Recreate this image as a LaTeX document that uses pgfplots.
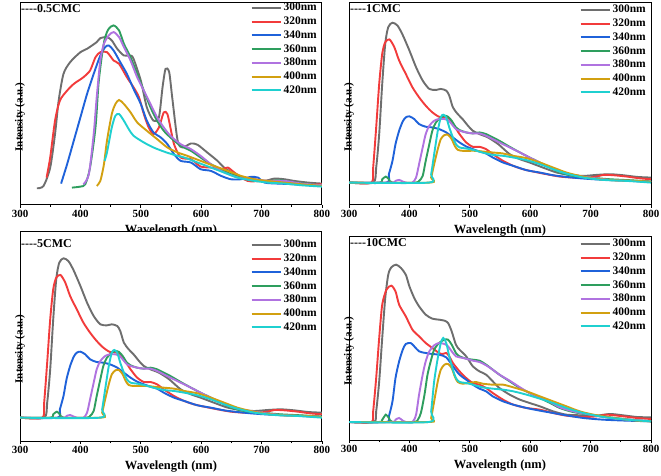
\documentclass[border=0pt]{standalone}
\usepackage{fontspec}
\setmainfont{Liberation Serif}
\usepackage{pgfplots}
\usepackage{pgfplotstable}
\pgfplotsset{compat=1.18}
\definecolor{cgr}{HTML}{6E6E6E}
\definecolor{crd}{HTML}{F23B3B}
\definecolor{cbl}{HTML}{1F62DA}
\definecolor{cgn}{HTML}{2E9E5E}
\definecolor{cpu}{HTML}{B073E0}
\definecolor{cog}{HTML}{D2A010}
\definecolor{ccy}{HTML}{1FD0D0}

% panel 2 data (reused for panel 3), x = wavelength, y = reversed intensity scale
\pgfplotstableread[row sep=\\]{x y\\300 545\\340 545\\345 500\\350 400\\355 250\\360 130\\365 80\\372 67\\380 75\\388 100\\400 150\\411 200\\422 240\\433 265\\444 268\\452 265\\461 270\\466 285\\472 320\\480 340\\488 355\\497 375\\505 390\\516 400\\530 410\\547 430\\566 460\\583 475\\599 485\\621 500\\644 515\\666 522\\688 525\\710 522\\732 520\\754 523\\777 528\\800 530\\}\tBgr
\pgfplotstableread[row sep=\\]{x y\\300 545\\337 545\\340 500\\345 380\\350 250\\355 160\\360 125\\367 117\\375 140\\383 180\\394 220\\405 260\\416 290\\427 315\\438 335\\449 348\\461 350\\472 370\\483 400\\494 425\\505 438\\516 438\\527 445\\538 460\\555 480\\572 495\\588 505\\605 512\\627 520\\649 527\\671 530\\693 530\\710 527\\721 522\\738 523\\760 527\\780 532\\800 535\\}\tBrd
\pgfplotstableread[row sep=\\]{x y\\300 545\\362 545\\366 520\\372 480\\377 430\\383 390\\389 362\\394 350\\400 347\\408 355\\416 370\\427 378\\438 380\\449 385\\461 395\\472 410\\483 425\\494 437\\505 445\\516 452\\527 458\\538 470\\555 485\\572 495\\594 508\\616 515\\638 523\\660 528\\682 532\\705 535\\738 538\\771 540\\800 542\\}\tBbl
\pgfplotstableread[row sep=\\]{x y\\300 545\\350 545\\355 535\\361 527\\366 535\\372 545\\410 545\\416 540\\422 525\\427 480\\433 430\\438 390\\444 365\\452 350\\458 345\\464 348\\470 360\\477 380\\483 388\\494 395\\505 398\\516 395\\527 400\\538 410\\549 420\\566 438\\583 455\\599 470\\616 485\\633 500\\649 515\\671 525\\699 530\\732 535\\766 538\\800 542\\}\tBgn
\pgfplotstableread[row sep=\\]{x y\\300 545\\370 545\\377 540\\383 537\\389 542\\394 545\\405 545\\411 530\\416 490\\422 440\\427 400\\433 375\\441 360\\449 355\\458 355\\464 358\\470 370\\477 385\\483 390\\494 395\\505 398\\516 398\\527 405\\538 415\\549 425\\566 440\\583 455\\599 470\\616 485\\633 500\\649 512\\671 522\\699 530\\732 537\\766 540\\800 543\\}\tBpu
\pgfplotstableread[row sep=\\]{x y\\300 545\\433 545\\436 530\\441 490\\447 445\\452 415\\458 403\\464 402\\470 415\\475 435\\480 447\\488 450\\499 450\\510 450\\521 452\\538 455\\555 458\\572 465\\594 472\\616 485\\638 500\\660 515\\682 525\\705 533\\738 538\\777 540\\800 543\\}\tBog
\pgfplotstableread[row sep=\\]{x y\\300 545\\432 545\\436 520\\441 460\\447 390\\452 350\\456 342\\461 350\\466 380\\472 410\\477 430\\483 440\\494 443\\505 447\\521 455\\538 462\\555 465\\572 470\\594 478\\616 490\\638 505\\660 518\\688 530\\721 537\\760 540\\800 545\\}\tBcy

\pgfplotsset{
  panel/.style={
    scale only axis, width=302pt, anchor=south west,
    xmin=300, xmax=800, y dir=reverse,
    xtick={300,400,...,800}, minor x tick num=1, ytick=\empty,
    xtick pos=lower, tick align=outside,
    major tick length=3pt, minor tick length=2pt,
    every tick/.style={black, line width=0.8pt},
    axis line style={line width=1pt},
    /pgf/number format/assume math mode=true,
    xticklabel style={font=\bfseries\fontsize{11}{11}\selectfont, yshift=1pt},
    xlabel={Wavelength (nm)}, ylabel={Intensity (a.u.)},
    xlabel style={font=\bfseries\fontsize{12.5}{12.5}\selectfont, at={(axis description cs:0.5,0)}, anchor=center, yshift=-26pt},
    ylabel style={font=\bfseries\fontsize{11}{11}\selectfont, at={(axis description cs:0,0.5)}, anchor=center, xshift=-13pt},
    legend style={draw=none, fill=none, at={(axis description cs:1,1)}, anchor=north east,
      font=\bfseries\fontsize{11.5}{11.5}\selectfont, row sep=0.6pt, inner sep=0pt, xshift=-3pt},
    legend cell align=left,
    legend image code/.code={\draw[#1, line width=2pt] (0pt,0pt) -- (29pt,0pt);},
    every axis plot/.append style={line width=1.9pt, smooth, tension=0.45},
    cycle list={{cgr},{crd},{cbl},{cgn},{cpu},{cog},{ccy}},
  },
}

\begin{document}
\begin{tikzpicture}[x=1pt,y=1pt]
\useasboundingbox (0,0) rectangle (661,476);

% ---------- Panel 1: 0.5CMC
\begin{axis}[panel, at={(20pt,271pt)}, height=202pt, ymin=8, ymax=612,
  legend style={yshift=2pt}]
\addplot coordinates {(328,562)(339,555)(350,500)(358,400)(364,300)(372,220)(383,185)(400,155)(411,145)(427,125)(433,113)(444,110)(452,120)(461,145)(472,165)(483,165)(488,175)(500,240)(510,320)(521,360)(530,350)(536,260)(541,205)(547,215)(552,290)(561,420)(569,440)(583,428)(594,432)(610,455)(627,480)(638,500)(655,520)(671,535)(688,535)(705,540)(721,533)(738,535)(754,540)(777,545)(800,548)};
\addplot coordinates {(344,530)(350,470)(358,360)(366,300)(378,270)(389,250)(397,240)(405,230)(416,210)(425,170)(433,155)(444,155)(455,180)(464,190)(477,230)(488,260)(497,290)(505,340)(513,380)(521,400)(530,380)(538,335)(544,340)(549,380)(555,430)(566,470)(583,475)(599,497)(616,500)(633,505)(644,500)(655,515)(677,540)(699,540)(721,540)(743,545)(766,550)(800,550)};
\addplot coordinates {(368,548)(378,490)(389,420)(400,350)(411,280)(422,220)(433,165)(441,140)(447,135)(455,150)(466,185)(477,220)(488,265)(500,310)(510,360)(521,395)(533,410)(544,430)(555,460)(566,480)(583,485)(599,505)(616,510)(633,525)(649,535)(666,535)(682,528)(694,530)(705,545)(727,548)(754,550)(800,555)};
\addplot coordinates {(386,560)(400,557)(408,550)(416,500)(425,380)(430,250)(436,160)(441,110)(447,85)(455,75)(464,90)(472,130)(483,170)(494,220)(505,270)(516,320)(527,360)(538,390)(549,410)(566,435)(583,450)(599,470)(616,490)(633,505)(649,520)(666,530)(688,540)(710,540)(732,538)(754,545)(800,553)};
\addplot coordinates {(405,550)(414,520)(422,400)(427,290)(433,180)(439,130)(447,105)(455,95)(464,110)(472,140)(483,180)(494,230)(505,270)(516,310)(527,350)(538,380)(549,405)(566,430)(583,445)(599,465)(616,490)(633,510)(649,523)(666,532)(688,535)(710,540)(738,540)(766,548)(800,553)};
\addplot coordinates {(427,555)(433,540)(439,490)(444,420)(452,340)(458,310)(464,298)(472,310)(483,335)(494,365)(510,390)(527,415)(544,440)(561,455)(577,465)(599,480)(621,495)(644,510)(666,525)(688,535)(710,540)(738,545)(766,550)(800,555)};
\addplot coordinates {(440,480)(444,455)(452,380)(458,345)(464,340)(472,360)(480,385)(488,405)(505,425)(521,440)(538,452)(555,462)(572,470)(594,485)(616,500)(638,515)(660,530)(682,538)(710,545)(738,548)(766,553)(800,557)};
\legend{300nm,320nm,340nm,360nm,380nm,400nm,420nm}
\node[anchor=west, font=\bfseries\fontsize{12}{12}\selectfont, inner sep=0pt] at (axis description cs:0,1) [yshift=-6pt, xshift=1pt] {{-}{-}{-}{-}0.5CMC};
\end{axis}

% ---------- Panel 2: 1CMC
\begin{axis}[panel, at={(349pt,271pt)}, height=202pt, ymin=8, ymax=612,
  legend style={yshift=0pt}]
\addplot table {\tBgr};
\addplot table {\tBrd};
\addplot table {\tBbl};
\addplot table {\tBgn};
\addplot table {\tBpu};
\addplot table {\tBog};
\addplot table {\tBcy};
\legend{300nm,320nm,340nm,360nm,380nm,400nm,420nm}
\node[anchor=west, font=\bfseries\fontsize{12}{12}\selectfont, inner sep=0pt] at (axis description cs:0,1) [yshift=-6pt, xshift=1pt] {{-}{-}{-}{-}1CMC};
\end{axis}

% ---------- Panel 3: 5CMC
\begin{axis}[panel, at={(20pt,35pt)}, height=210pt, ymin=-15, ymax=615,
  axis background/.style={fill=white}, legend style={yshift=-7pt}]
\addplot table {\tBgr};
\addplot table {\tBrd};
\addplot table {\tBbl};
\addplot table {\tBgn};
\addplot table {\tBpu};
\addplot table {\tBog};
\addplot table {\tBcy};
\legend{300nm,320nm,340nm,360nm,380nm,400nm,420nm}
\node[anchor=west, font=\bfseries\fontsize{12}{12}\selectfont, inner sep=0pt] at (axis description cs:0,1) [yshift=-13pt, xshift=1pt] {{-}{-}{-}{-}5CMC};
\end{axis}

% ---------- Panel 4: 10CMC
\begin{axis}[panel, at={(349pt,36pt)}, height=204pt, ymin=-6, ymax=606,
  axis background/.style={fill=white}, legend style={yshift=-1pt}]
\addplot coordinates {(300,552)(341,552)(345,520)(350,430)(355,300)(360,180)(365,110)(370,88)(378,80)(386,90)(394,110)(400,145)(408,180)(416,205)(427,230)(438,242)(449,245)(458,248)(464,255)(470,280)(477,320)(483,335)(494,355)(505,385)(516,400)(527,410)(538,430)(549,450)(566,470)(583,485)(599,495)(616,505)(638,520)(660,530)(688,532)(710,533)(732,528)(754,532)(777,537)(800,538)};
\addplot coordinates {(300,552)(337,552)(340,520)(345,420)(350,300)(355,200)(362,155)(370,143)(377,160)(383,200)(394,235)(405,275)(416,295)(427,315)(438,330)(449,345)(455,348)(461,345)(466,355)(472,375)(483,400)(494,420)(505,435)(516,440)(527,450)(538,465)(555,485)(572,500)(594,510)(616,515)(638,525)(660,533)(688,537)(710,535)(727,530)(754,535)(777,540)(800,543)};
\addplot coordinates {(300,552)(362,552)(366,535)(372,490)(377,420)(383,370)(389,335)(394,318)(402,315)(408,325)(416,340)(427,345)(438,348)(449,350)(461,358)(472,385)(483,410)(494,425)(505,440)(516,452)(527,460)(538,475)(555,490)(572,500)(594,510)(616,518)(638,525)(660,532)(688,540)(721,545)(760,548)(800,550)};
\addplot coordinates {(300,552)(350,552)(355,545)(361,530)(366,540)(372,552)(408,552)(414,545)(419,525)(425,470)(430,410)(436,365)(441,335)(449,315)(458,305)(464,305)(470,320)(477,345)(483,355)(494,362)(505,365)(516,368)(527,380)(538,395)(549,410)(566,430)(583,450)(599,465)(616,480)(633,495)(649,510)(671,522)(699,530)(732,538)(766,545)(800,550)};
\addplot coordinates {(300,552)(370,552)(377,545)(383,540)(389,548)(394,552)(405,552)(411,530)(416,470)(422,410)(427,370)(433,340)(441,322)(449,315)(458,318)(464,325)(470,340)(477,355)(483,358)(494,362)(505,368)(516,372)(527,382)(538,395)(549,410)(566,428)(583,448)(599,465)(616,478)(633,492)(649,508)(671,520)(699,530)(732,540)(766,545)(800,550)};
\addplot coordinates {(300,552)(433,552)(436,540)(441,490)(447,430)(452,395)(458,380)(464,378)(470,390)(475,415)(480,432)(488,437)(499,435)(510,432)(521,437)(538,440)(555,440)(572,448)(594,460)(616,475)(638,490)(660,505)(682,520)(705,530)(738,540)(777,548)(800,550)};
\addplot coordinates {(300,552)(432,552)(436,520)(441,430)(447,360)(452,315)(456,300)(461,315)(466,355)(472,395)(477,420)(483,432)(494,435)(505,440)(521,448)(538,452)(555,455)(572,460)(594,470)(616,482)(638,495)(660,510)(688,525)(721,537)(760,545)(800,550)};
\legend{300nm,320nm,340nm,360nm,380nm,400nm,420nm}
\node[anchor=west, font=\bfseries\fontsize{12}{12}\selectfont, inner sep=0pt] at (axis description cs:0,1) [yshift=-7pt, xshift=1pt] {{-}{-}{-}{-}10CMC};
\end{axis}
\end{tikzpicture}
\end{document}
